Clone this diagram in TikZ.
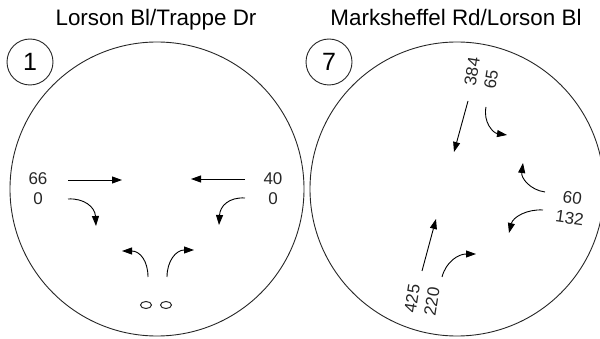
\documentclass[tikz,border=0pt]{standalone}
\usepackage{fontspec}
\setmainfont{Liberation Sans}
\usetikzlibrary{arrows.meta,shapes.geometric}
\begin{document}
\begin{tikzpicture}[x=1pt,y=-1pt,
  ring/.style={circle, draw=black!85, line width=0.9pt, minimum size=294pt, inner sep=0pt},
  tag/.style={circle, draw=black!85, line width=0.9pt, minimum size=46pt, inner sep=0pt, font=\fontsize{25}{25}\selectfont},
  title/.style={font=\fontsize{22.4}{26}\selectfont, anchor=base, inner sep=0pt},
  vol/.style={font=\fontsize{17}{20}\selectfont, inner sep=0pt, text=black!85},
  mv/.style={draw=black, line width=0.9pt, -{Triangle[length=10pt,width=7pt]}},
  ped/.style={ellipse, draw=black!85, line width=1pt, minimum width=11pt, minimum height=7pt, inner sep=0pt},
]
\useasboundingbox (0,0) rectangle (600,339);
\clip (0,0) rectangle (600,339);

% titles and tags
\node[title] (t1) at (156,26) {Lorson Bl/Trappe Dr};
\node[title] (t2) at (456,26) {Marksheffel Rd/Lorson Bl};
\node[tag] (n1) at (30,62) {1};
\node[tag] (n7) at (329,62) {7};

% big circles
\node[ring] (c1) at (157,189) {};
\node[ring] (c7) at (457,189) {};

% ---------- intersection 1 ----------
\node[vol, align=center] (v1w) at (38,189) {66\\0};
\node[vol, align=center] (v1e) at (273,189) {40\\0};

\coordinate (wt1) at (68,180);  \coordinate (wt2) at (122,180);
\coordinate (wr1) at (68,199);  \coordinate (wr2) at (96,226);
\coordinate (et1) at (245,179); \coordinate (et2) at (191,179);
\coordinate (el1) at (245,198); \coordinate (el2) at (219,225);
\coordinate (sl1) at (148,277); \coordinate (sl2) at (122,251);
\coordinate (sr1) at (167,277); \coordinate (sr2) at (194,250);

\draw[mv] (wt1) -- (wt2);
\draw[mv] (wr1) .. controls (84,198) and (95,207) .. (wr2);
\draw[mv] (et1) -- (et2);
\draw[mv] (el1) .. controls (229,197) and (220,206) .. (el2);
\draw[mv] (sl1) .. controls (148,261) and (140,251) .. (sl2);
\draw[mv] (sr1) .. controls (167,261) and (176,250) .. (sr2);

\node[ped] (p1) at (146,305) {};
\node[ped] (p2) at (166,305) {};

% ---------- intersection 7 ----------
\node[vol, align=left, rotate=81] (v7n) at (482,73) {384\\65};
\node[vol, align=left, rotate=81] (v7s) at (422,300) {425\\220};
\node[vol, align=center, rotate=-8] (v7e) at (571,208) {60\\132};

\coordinate (nt1) at (468,101); \coordinate (nt2) at (454,152);
\coordinate (nr1) at (486,107); \coordinate (nr2) at (507,135);
\coordinate (eu1) at (545,192); \coordinate (eu2) at (523,163);
\coordinate (ed1) at (543,210); \coordinate (ed2) at (509,233);
\coordinate (st1) at (422,271); \coordinate (st2) at (436,219);
\coordinate (sc1) at (442,277); \coordinate (sc2) at (476,254);

\draw[mv] (nt1) -- (nt2);
\draw[mv] (nr1) .. controls (483,122) and (493,133) .. (nr2);
\draw[mv] (eu1) .. controls (530,190) and (521,178) .. (eu2);
\draw[mv] (ed1) .. controls (527,209) and (513,217) .. (ed2);
\draw[mv] (st1) -- (st2);
\draw[mv] (sc1) .. controls (446,262) and (458,254) .. (sc2);
\end{tikzpicture}
\end{document}
